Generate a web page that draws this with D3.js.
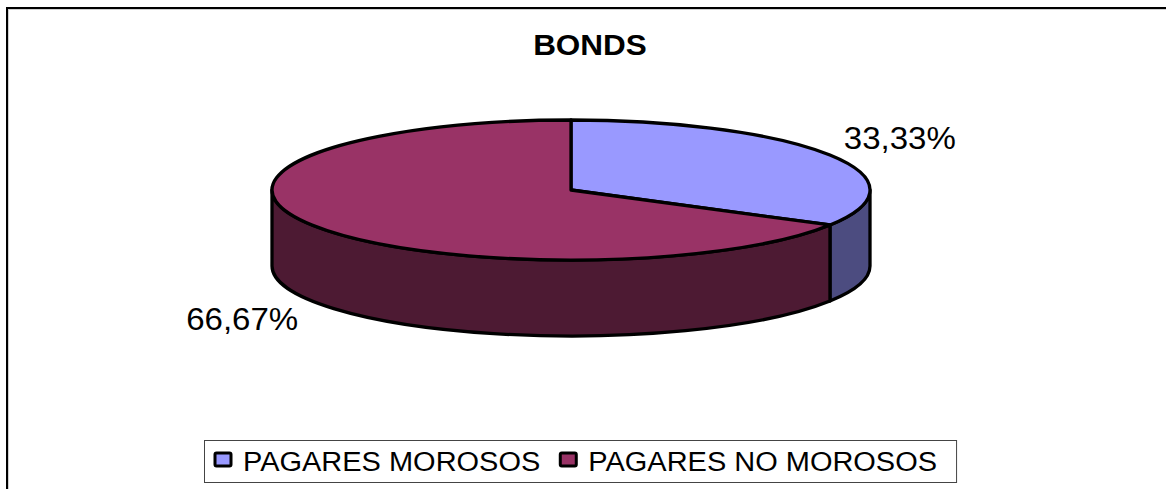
<!DOCTYPE html>
<html>
<head>
<meta charset="utf-8">
<script src="https://cdn.jsdelivr.net/npm/d3@7/dist/d3.min.js"></script>
<style>
  html, body { margin: 0; padding: 0; background: #fff; }
  svg { display: block; font-family: "Liberation Sans", Arial, sans-serif; }
</style>
</head>
<body>
<svg id="chart" width="1166" height="489"></svg>
<script>
// Bond portfolio split: overdue vs. current promissory notes
const categories = ["PAGARES MOROSOS", "PAGARES NO MOROSOS"];
const values = [33.33, 66.67];
const valueLabels = ["33,33%", "66,67%"];
const topColors = ["#9999FF", "#993366"];
const sideColors = ["#4C4C80", "#4D1A33"];
const title = "BONDS";

const svg = d3.select("#chart");
const W = 1166, H = 489;

// outer chart frame (runs past the right and bottom edges)
svg.append("rect")
  .attr("x", 8.5).attr("y", 9.5).attr("width", W + 20).attr("height", H + 20)
  .attr("fill", "none").attr("stroke", "#d0d0d0").attr("stroke-width", 1);
svg.append("rect")
  .attr("x", 7).attr("y", 8).attr("width", W + 20).attr("height", H + 20)
  .attr("fill", "none").attr("stroke", "#000").attr("stroke-width", 2);

// title
svg.append("text")
  .attr("transform", "translate(590,55) scale(1.05,1)")
  .attr("text-anchor", "middle")
  .attr("font-size", 30).attr("font-weight", "bold")
  .text(title);

// 3D pie geometry
const cx = 571, cy = 190, rx = 299, ry = 70, depth = 76;
const pt = a => [cx + rx * Math.sin(a), cy - ry * Math.cos(a)];

const arcs = d3.pie().sort(null).value(d => d)(values);

function topPath(d) {
  const [x0, y0] = pt(d.startAngle), [x1, y1] = pt(d.endAngle);
  const large = (d.endAngle - d.startAngle) > Math.PI ? 1 : 0;
  return `M${cx},${cy}L${x0},${y0}A${rx},${ry} 0 ${large} 1 ${x1},${y1}Z`;
}

function sidePath(a0, a1) {
  const [x0, y0] = pt(a0), [x1, y1] = pt(a1);
  const large = (a1 - a0) > Math.PI ? 1 : 0;
  return `M${x0},${y0}A${rx},${ry} 0 ${large} 1 ${x1},${y1}` +
         `L${x1},${y1 + depth}A${rx},${ry} 0 ${large} 0 ${x0},${y0 + depth}Z`;
}

const g = svg.append("g");
// visible front wall spans angles PI/2 .. 3PI/2
arcs.forEach((d, i) => {
  const a0 = Math.max(d.startAngle, Math.PI / 2);
  const a1 = Math.min(d.endAngle, 3 * Math.PI / 2);
  if (a1 > a0) {
    g.append("path").attr("d", sidePath(a0, a1))
      .attr("fill", sideColors[i]).attr("stroke", "#000")
      .attr("stroke-width", 3.3).attr("stroke-linejoin", "round");
  }
});
arcs.forEach((d, i) => {
  g.append("path").attr("d", topPath(d))
    .attr("fill", topColors[i]).attr("stroke", "#000")
    .attr("stroke-width", 3.3).attr("stroke-linejoin", "round");
});

// percentage labels outside the slices
arcs.forEach((d, i) => {
  const mid = (d.startAngle + d.endAngle) / 2;
  const lx = cx + rx * 1.27 * Math.sin(mid);
  const ly = cy - ry * 1.5 * Math.cos(mid) + (Math.cos(mid) < 0 ? depth : 0);
  svg.append("text")
    .attr("transform", `translate(${lx},${ly}) scale(1.065,1)`)
    .attr("text-anchor", "middle").attr("dy", "0.36em")
    .attr("font-size", 31)
    .text(valueLabels[i]);
});

// legend
const legend = svg.append("g");
const lbX = 204, lbY = 440, lbH = 42;
const box = legend.append("rect")
  .attr("x", lbX + 0.5).attr("y", lbY + 0.5).attr("height", lbH)
  .attr("fill", "#fff").attr("stroke", "#444").attr("stroke-width", 1);
let xPos = lbX + 10;
categories.forEach((c, i) => {
  legend.append("rect")
    .attr("x", xPos + 1).attr("y", 453).attr("width", 16).attr("height", 13)
    .attr("fill", topColors[i]).attr("stroke", "#000").attr("stroke-width", 3)
    .attr("rx", 1.5);
  const t = legend.append("text")
    .attr("transform", `translate(${xPos + 29},471) scale(1.035,1)`)
    .attr("font-size", 28)
    .text(c);
  const w = t.node().getComputedTextLength() * 1.035;
  xPos = xPos + 29 + w + 19;
});
box.attr("width", xPos - lbX);
</script>
</body>
</html>
